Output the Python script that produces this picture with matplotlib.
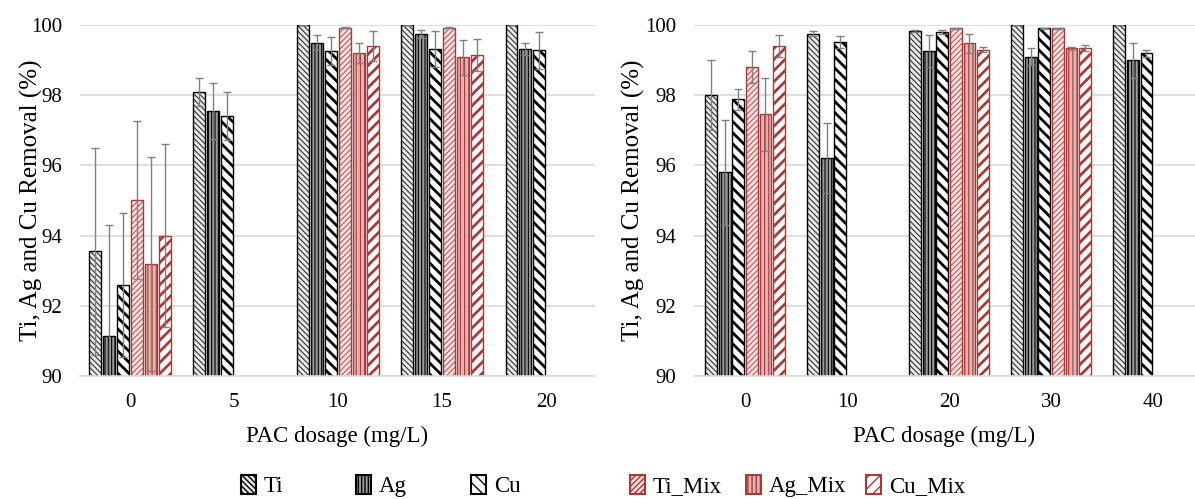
import numpy as np
import matplotlib
matplotlib.use('Agg')
import matplotlib.pyplot as plt
from matplotlib.patches import Patch

plt.rcParams['font.family'] = ['Liberation Serif', 'DejaVu Serif']

nan = np.nan
series = ['Ti', 'Ag', 'Cu', 'Ti_Mix', 'Ag_Mix', 'Cu_Mix']

# left panel: single metal vs mixture
left_doses = ['0', '5', '10', '15', '20']
left_vals = {
    'Ti': [93.55, 98.1, 100.0, 100.0, 100.0],
    'Ag': [91.15, 97.55, 99.5, 99.75, 99.32],
    'Cu': [92.6, 97.4, 99.25, 99.32, 99.28],
    'Ti_Mix': [95.0, nan, 99.92, 99.92, nan],
    'Ag_Mix': [93.2, nan, 99.2, 99.08, nan],
    'Cu_Mix': [94.0, nan, 99.4, 99.15, nan],
}
left_err = {
    'Ti': [2.95, 0.4, 0.0, 0.0, 0.0],
    'Ag': [3.15, 0.8, 0.22, 0.12, 0.17],
    'Cu': [2.05, 0.68, 0.4, 0.52, 0.53],
    'Ti_Mix': [2.25, nan, 0.02, 0.02, nan],
    'Ag_Mix': [3.05, nan, 0.28, 0.5, nan],
    'Cu_Mix': [2.6, nan, 0.42, 0.45, nan],
}

# right panel
right_doses = ['0', '10', '20', '30', '40']
right_vals = {
    'Ti': [98.0, 99.75, 99.82, 100.0, 100.0],
    'Ag': [95.8, 96.2, 99.25, 99.1, 99.0],
    'Cu': [97.88, 99.52, 99.8, 99.9, 99.2],
    'Ti_Mix': [98.8, nan, 99.9, 99.9, nan],
    'Ag_Mix': [97.45, nan, 99.48, 99.33, nan],
    'Cu_Mix': [99.4, nan, 99.3, 99.35, nan],
}
right_err = {
    'Ti': [1.0, 0.07, 0.03, 0.0, 0.0],
    'Ag': [1.5, 1.0, 0.45, 0.25, 0.5],
    'Cu': [0.3, 0.17, 0.06, 0.02, 0.1],
    'Ti_Mix': [0.45, nan, 0.01, 0.01, nan],
    'Ag_Mix': [1.05, nan, 0.27, 0.05, nan],
    'Cu_Mix': [0.32, nan, 0.08, 0.08, nan],
}

RED = '#a83a3a'
styles = {
    'Ti': dict(facecolor='#e6e6e6', edgecolor='black', hatch='\\\\\\\\\\\\', hlw=0.6),
    'Ag': dict(facecolor='#9a9a9a', edgecolor='black', hatch='|||||', hlw=0.8),
    'Cu': dict(facecolor='white', edgecolor='black', hatch='\\\\\\', hlw=2.0),
    'Ti_Mix': dict(facecolor='#f4dede', edgecolor=RED, hatch='//////', hlw=0.6),
    'Ag_Mix': dict(facecolor='#e2b4b4', edgecolor=RED, hatch='||||', hlw=0.8),
    'Cu_Mix': dict(facecolor='white', edgecolor=RED, hatch='///', hlw=2.0),
}


def draw_panel(ax, doses, vals, errs, xlim, ylab_x):
    x = np.arange(len(doses))
    pitch = 0.133
    width = 0.115
    for i, s in enumerate(series):
        st = styles[s]
        pos = x + (i - 2.5) * pitch
        with plt.rc_context({'hatch.linewidth': st['hlw']}):
            bars = ax.bar(pos, vals[s], width, facecolor=st['facecolor'],
                          edgecolor=st['edgecolor'], hatch=st['hatch'],
                          linewidth=1.0, zorder=2)
            for b in bars:
                try:
                    b.set_hatch_linewidth(st['hlw'])
                except AttributeError:
                    pass
        ax.errorbar(pos, vals[s], yerr=errs[s], fmt='none', ecolor='#808080',
                    elinewidth=1.0, capsize=3, capthick=1.0, zorder=3)
    ax.set_ylim(90, 100)
    ax.set_xlim(*xlim)
    ax.set_yticks(np.arange(90, 101, 2))
    ax.set_xticks(x)
    ax.set_xticklabels(doses)
    ax.yaxis.grid(True, color='#d9d9d9', linewidth=1.2, zorder=0)
    ax.set_axisbelow(True)
    for sp in ['top', 'right', 'left']:
        ax.spines[sp].set_visible(False)
    ax.spines['bottom'].set_color('#d9d9d9')
    ax.spines['bottom'].set_linewidth(1.2)
    ax.tick_params(axis='both', length=0, labelsize=15)
    ax.tick_params(axis='y', pad=13)
    ax.tick_params(axis='x', pad=12)
    ax.set_xlabel('PAC dosage (mg/L)', fontsize=16.5, labelpad=10)
    ax.set_ylabel('Ti, Ag and Cu Removal (%)', fontsize=18)
    ax.yaxis.set_label_coords(ylab_x, 0.5)


fig = plt.figure(figsize=(11.95, 4.99), dpi=100)
ax1 = fig.add_axes([80 / 1195, 0.2465, 515 / 1195, 0.7035])
ax2 = fig.add_axes([694 / 1195, 0.2465, 501 / 1195, 0.7035])
draw_panel(ax1, left_doses, left_vals, left_err, (-0.48, 4.47), -0.072)
draw_panel(ax2, right_doses, right_vals, right_err, (-0.5, 4.41), -0.098)

# legend entries placed along the bottom
leg_x = [241, 356, 471, 630, 746, 866]
for s, lx in zip(series, leg_x):
    st = styles[s]
    with plt.rc_context({'hatch.linewidth': st['hlw']}):
        h = Patch(facecolor=st['facecolor'], edgecolor=st['edgecolor'],
                  hatch=st['hatch'], linewidth=1.5, label=s)
    fig.legend(handles=[h], loc='center left', bbox_to_anchor=(lx / 1195, 0.026),
               frameon=False, fontsize=16.5, borderpad=0, borderaxespad=0,
               handlelength=0.65, handleheight=0.95, handletextpad=0.35)

fig.savefig('out.png', dpi=100)
